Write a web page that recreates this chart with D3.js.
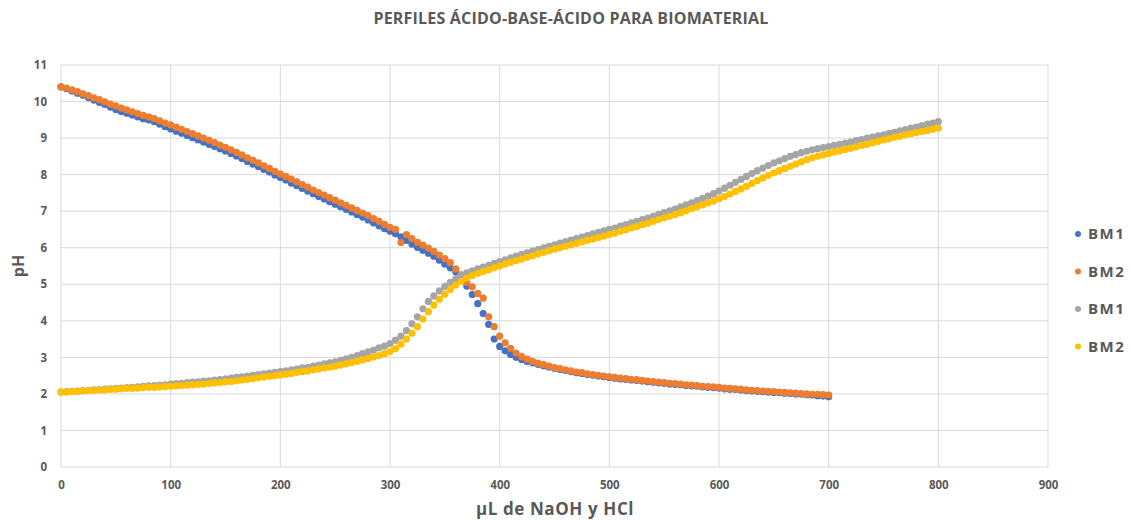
<!DOCTYPE html>
<html>
<head>
<meta charset="utf-8">
<script src="https://cdn.jsdelivr.net/npm/d3@7"></script>
<style>
  body { margin: 0; background: #fff; }
  svg { font-family: "Open Sans", sans-serif; }
</style>
</head>
<body>
<svg id="chart" width="1131" height="520"></svg>
<script>
// volumes are sampled every 5 uL starting at 0
var step = 5

var bm1Base = [
  10.40, 10.35, 10.29, 10.23, 10.17, 10.11, 10.04, 9.98, 9.92, 9.85, 9.78, 9.73, 9.68, 9.63, 9.58, 9.53, 9.50, 9.45, 9.38, 9.31, 9.25,
  9.19, 9.13, 9.07, 9.01, 8.95, 8.89, 8.83, 8.77, 8.71, 8.65, 8.58, 8.51, 8.44, 8.36, 8.29, 8.22, 8.14, 8.07, 7.99, 7.92,
  7.85, 7.77, 7.70, 7.62, 7.55, 7.48, 7.40, 7.33, 7.26, 7.19, 7.12, 7.05, 6.98, 6.91, 6.84, 6.76, 6.68, 6.60, 6.52, 6.45,
  6.38, 6.30, 6.20, 6.10, 6.01, 5.93, 5.85, 5.77, 5.66, 5.55, 5.45, 5.34, 5.18, 4.95, 4.72, 4.47, 4.20, 3.90, 3.50, 3.30,
  3.18, 3.08, 3.00, 2.94, 2.89, 2.85, 2.81, 2.77, 2.73, 2.70, 2.67, 2.64, 2.61, 2.58, 2.56, 2.53, 2.51, 2.49, 2.47, 2.45,
  2.43, 2.41, 2.40, 2.38, 2.37, 2.35, 2.33, 2.32, 2.30, 2.29, 2.27, 2.26, 2.25, 2.23, 2.22, 2.21, 2.19, 2.18, 2.17, 2.16,
  2.14, 2.13, 2.12, 2.11, 2.09, 2.08, 2.07, 2.06, 2.05, 2.04, 2.03, 2.02, 2.01, 2.00, 1.99, 1.98, 1.97, 1.95, 1.94, 1.92
]

var bm2Base = [
  10.40, 10.37, 10.32, 10.27, 10.21, 10.16, 10.10, 10.05, 9.99, 9.93, 9.88, 9.82, 9.77, 9.72, 9.67, 9.62, 9.58, 9.53, 9.47, 9.41, 9.36,
  9.30, 9.24, 9.18, 9.12, 9.06, 9.00, 8.94, 8.88, 8.81, 8.75, 8.68, 8.61, 8.54, 8.46, 8.39, 8.32, 8.24, 8.17, 8.09, 8.02,
  7.95, 7.88, 7.80, 7.73, 7.66, 7.58, 7.51, 7.44, 7.37, 7.30, 7.23, 7.16, 7.09, 7.02, 6.95, 6.88, 6.80, 6.72, 6.64, 6.56,
  6.50, 6.14, 6.36, 6.25, 6.15, 6.07, 5.99, 5.90, 5.80, 5.70, 5.59, 5.42, 5.26, 5.05, 4.93, 4.75, 4.62, 4.11, 3.84, 3.58,
  3.40, 3.25, 3.12, 3.02, 2.95, 2.89, 2.84, 2.80, 2.76, 2.72, 2.69, 2.66, 2.63, 2.60, 2.58, 2.55, 2.53, 2.51, 2.49, 2.47,
  2.45, 2.43, 2.42, 2.40, 2.39, 2.37, 2.35, 2.34, 2.32, 2.31, 2.29, 2.28, 2.27, 2.25, 2.24, 2.23, 2.21, 2.20, 2.19, 2.18,
  2.16, 2.15, 2.14, 2.13, 2.11, 2.10, 2.09, 2.08, 2.07, 2.06, 2.05, 2.04, 2.03, 2.02, 2.01, 2.00, 1.99, 1.99, 1.98, 1.97
]

var bm1Acid = [
  2.05, 2.06, 2.07, 2.08, 2.09, 2.10, 2.11, 2.12, 2.13, 2.14, 2.15, 2.16, 2.17, 2.18, 2.19, 2.21, 2.22, 2.23, 2.24, 2.25, 2.27,
  2.28, 2.29, 2.31, 2.32, 2.33, 2.35, 2.36, 2.38, 2.39, 2.41, 2.43, 2.45, 2.47, 2.49, 2.51, 2.53, 2.55, 2.57, 2.59, 2.61,
  2.63, 2.66, 2.68, 2.71, 2.73, 2.76, 2.79, 2.82, 2.85, 2.88, 2.92, 2.96, 3.00, 3.05, 3.10, 3.15, 3.20, 3.26, 3.31, 3.38,
  3.47, 3.58, 3.73, 3.92, 4.11, 4.33, 4.53, 4.68, 4.82, 4.94, 5.05, 5.15, 5.24, 5.31, 5.37, 5.42, 5.47, 5.52, 5.57, 5.62,
  5.67, 5.72, 5.77, 5.82, 5.86, 5.91, 5.95, 6.00, 6.04, 6.08, 6.13, 6.17, 6.21, 6.25, 6.29, 6.33, 6.38, 6.42, 6.46, 6.50,
  6.54, 6.59, 6.63, 6.68, 6.72, 6.77, 6.81, 6.86, 6.91, 6.96, 7.01, 7.06, 7.12, 7.17, 7.23, 7.29, 7.35, 7.41, 7.48, 7.55,
  7.63, 7.71, 7.79, 7.87, 7.95, 8.03, 8.11, 8.18, 8.25, 8.32, 8.38, 8.44, 8.50, 8.55, 8.60, 8.64, 8.68, 8.71, 8.74, 8.77,
  8.80, 8.83, 8.86, 8.89, 8.93, 8.96, 9.00, 9.03, 9.06, 9.09, 9.13, 9.16, 9.20, 9.23, 9.27, 9.30, 9.34, 9.38, 9.41, 9.45
]

var bm2Acid = [
  2.05, 2.05, 2.06, 2.07, 2.08, 2.09, 2.10, 2.10, 2.11, 2.12, 2.13, 2.14, 2.15, 2.15, 2.16, 2.17, 2.18, 2.18, 2.19, 2.20, 2.21,
  2.22, 2.23, 2.24, 2.25, 2.26, 2.27, 2.29, 2.30, 2.31, 2.33, 2.34, 2.36, 2.38, 2.40, 2.42, 2.44, 2.46, 2.48, 2.50, 2.52,
  2.54, 2.56, 2.59, 2.61, 2.63, 2.66, 2.68, 2.71, 2.73, 2.76, 2.79, 2.82, 2.86, 2.89, 2.93, 2.97, 3.01, 3.05, 3.10, 3.16,
  3.24, 3.36, 3.50, 3.66, 3.84, 4.05, 4.25, 4.43, 4.59, 4.73, 4.86, 4.98, 5.08, 5.17, 5.24, 5.30, 5.35, 5.40, 5.45, 5.50,
  5.55, 5.60, 5.65, 5.69, 5.74, 5.78, 5.83, 5.87, 5.92, 5.96, 6.00, 6.04, 6.08, 6.12, 6.16, 6.20, 6.24, 6.28, 6.32, 6.36,
  6.40, 6.45, 6.49, 6.54, 6.58, 6.63, 6.67, 6.72, 6.77, 6.82, 6.86, 6.91, 6.96, 7.01, 7.07, 7.12, 7.17, 7.23, 7.28, 7.34,
  7.40, 7.47, 7.54, 7.61, 7.68, 7.76, 7.84, 7.91, 7.98, 8.05, 8.11, 8.17, 8.23, 8.29, 8.35, 8.41, 8.46, 8.50, 8.54, 8.58,
  8.62, 8.65, 8.69, 8.72, 8.76, 8.80, 8.83, 8.87, 8.91, 8.95, 8.98, 9.02, 9.05, 9.09, 9.12, 9.15, 9.18, 9.21, 9.24, 9.27
]

var seriesNames = ["BM1", "BM2", "BM1", "BM2"]
var seriesColors = ["#4472C4", "#ED7D31", "#A5A5A5", "#FFC000"]
var xTicks = [0, 100, 200, 300, 400, 500, 600, 700, 800, 900]
var yTicks = [0, 1, 2, 3, 4, 5, 6, 7, 8, 9, 10, 11]

var svg = d3.select("#chart")
var plot = { left: 61, right: 1048, top: 65, bottom: 467 }

var x = d3.scaleLinear().domain([0, 900]).range([plot.left, plot.right])
var y = d3.scaleLinear().domain([0, 11]).range([plot.bottom, plot.top])

var textColor = "#595959"

// gridlines
svg.append("g")
  .selectAll("line.h")
  .data(yTicks)
  .enter().append("line")
  .attr("x1", plot.left).attr("x2", plot.right)
  .attr("y1", function(d) { return y(d) }).attr("y2", function(d) { return y(d) })
  .attr("stroke", "#D9D9D9").attr("stroke-width", 1)

svg.append("g")
  .selectAll("line.v")
  .data(xTicks)
  .enter().append("line")
  .attr("y1", plot.top).attr("y2", plot.bottom)
  .attr("x1", function(d) { return x(d) }).attr("x2", function(d) { return x(d) })
  .attr("stroke", "#D9D9D9").attr("stroke-width", 1)

// axes, domain/ticks hidden to get the excel look
var xAxis = svg.append("g")
  .attr("transform", "translate(0," + plot.bottom + ")")
  .call(d3.axisBottom(x).tickValues(xTicks).tickSize(0).tickPadding(14))
xAxis.select(".domain").remove()

var yAxis = svg.append("g")
  .attr("transform", "translate(" + plot.left + ",0)")
  .call(d3.axisLeft(y).tickValues(yTicks).tickSize(0).tickPadding(14))
yAxis.select(".domain").remove()

svg.selectAll(".tick text")
  .attr("fill", textColor)
  .style("font-size", "11.5px")
  .style("font-weight", "bold")
  .style("font-family", "'Open Sans', sans-serif")

// points
var allSeries = [bm1Base, bm2Base, bm1Acid, bm2Acid]
allSeries.forEach(function(values, i) {
  svg.append("g")
    .selectAll("circle")
    .data(values)
    .enter().append("circle")
    .attr("cx", function(d, j) { return x(j * step) })
    .attr("cy", function(d) { return y(d) })
    .attr("r", 3.6)
    .attr("fill", seriesColors[i])
})

// titles
svg.append("text")
  .attr("x", 571).attr("y", 24)
  .attr("text-anchor", "middle")
  .attr("fill", textColor)
  .style("font-size", "16px").style("font-weight", "bold")
  .style("letter-spacing", "0.2px")
  .text("PERFILES ÁCIDO-BASE-ÁCIDO PARA BIOMATERIAL")

svg.append("text")
  .attr("x", 555).attr("y", 515)
  .attr("text-anchor", "middle")
  .attr("fill", textColor)
  .style("font-size", "17px").style("font-weight", "bold")
  .style("letter-spacing", "0.6px")
  .text("µL de NaOH y HCl")

svg.append("text")
  .attr("transform", "translate(24,266) rotate(-90)")
  .attr("text-anchor", "middle")
  .attr("fill", textColor)
  .style("font-size", "16px").style("font-weight", "bold")
  .text("pH")

// legend
var legend = svg.append("g")
  .selectAll("g")
  .data(seriesNames)
  .enter().append("g")
  .attr("transform", function(d, i) { return "translate(1078," + (234 + i * 37.5) + ")" })

legend.append("circle")
  .attr("r", 3)
  .attr("fill", function(d, i) { return seriesColors[i] })

legend.append("text")
  .attr("x", 10).attr("dy", "0.35em")
  .attr("fill", textColor)
  .style("font-size", "15px").style("font-weight", "bold")
  .style("letter-spacing", "1.5px")
  .text(function(d) { return d })
</script>
</body>
</html>
